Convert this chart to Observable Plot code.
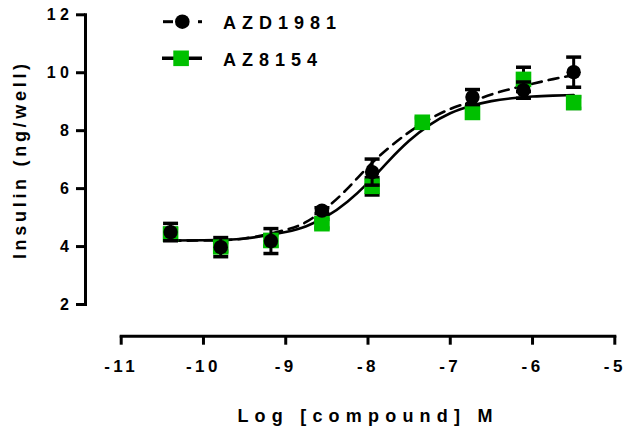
<!DOCTYPE html>
<html><head><meta charset="utf-8">
<script src="https://cdn.jsdelivr.net/npm/d3@7"></script>
<script src="https://cdn.jsdelivr.net/npm/@observablehq/plot@0.6"></script>
<style>
html,body{margin:0;padding:0;background:#fff;}
#chart svg{display:block;}
</style>
</head><body><div id="chart"></div>
<script>
// ---- data ----
const xDose = [-10.40, -9.79, -9.18, -8.56, -7.95, -7.34, -6.73, -6.11, -5.50];
const azd1981 = [4.50, 3.98, 4.19, 5.24, 6.57, null, 9.16, 9.40, 10.02];
const azd1981Sem = [0.30, 0.33, 0.43, 0.10, 0.45, null, 0.26, 0.28, 0.52];
const az8154 = [4.43, 3.99, 4.21, 4.79, 6.08, 8.29, 8.63, 9.77, 8.97];
const az8154Sem = [0.20, 0.15, 0.20, 0.15, 0.30, 0.15, 0.15, 0.42, 0.20];
const curveX = [-10.4, -10, -9.5, -9, -8.75, -8.5, -8.25, -8, -7.75, -7.5, -7.25, -7, -6.75, -6.5, -6.25, -6, -5.75, -5.5];
const azd1981Fit = [4.20, 4.21, 4.28, 4.58, 4.85, 5.35, 6.00, 6.75, 7.40, 7.95, 8.40, 8.75, 9.00, 9.25, 9.45, 9.62, 9.78, 9.92];
const az8154Fit = [4.21, 4.22, 4.28, 4.50, 4.70, 5.05, 5.55, 6.20, 6.95, 7.65, 8.20, 8.60, 8.85, 9.02, 9.12, 9.18, 9.21, 9.23];
const xTicks = [-11, -10, -9, -8, -7, -6, -5];
const yTicks = [2, 4, 6, 8, 10, 12];
const seriesNames = ["AZD1981", "AZ8154"];
const xLabel = "Log [compound] M";
const yLabel = "Insulin (ng/well)";
const green = "#00c000";

const A = xDose.map((x, i) => ({x, v: azd1981[i], s: azd1981Sem[i]})).filter(d => d.v != null);
const B = xDose.map((x, i) => ({x, v: az8154[i], s: az8154Sem[i]}));
const fitA = curveX.map((x, i) => ({x, y: azd1981Fit[i]}));
const fitB = curveX.map((x, i) => ({x, y: az8154Fit[i]}));
const cap = {draw(ctx) { ctx.rect(-7.5, -1.75, 15, 3.5); }};

function errorMarks(D) {
  return [
    Plot.ruleX(D, {x: "x", y1: d => d.v - d.s, y2: d => d.v + d.s, stroke: "black", strokeWidth: 3}),
    Plot.dot(D, {x: "x", y: d => d.v - d.s, symbol: cap, r: 5, fill: "black", stroke: null}),
    Plot.dot(D, {x: "x", y: d => d.v + d.s, symbol: cap, r: 5, fill: "black", stroke: null})
  ];
}

const chart = Plot.plot({
  width: 631, height: 436,
  marginLeft: 120.7, marginRight: 16.7, marginTop: 14.3, marginBottom: 132,
  style: {fontFamily: "'Liberation Sans', Arial, sans-serif", background: "#fff", color: "black"},
  x: {domain: [-11, -5]},
  y: {domain: [2, 12]},
  marks: [
    Plot.frame({anchor: "left", dx: -35.7, stroke: "black", strokeWidth: 3, strokeLinecap: "square"}),
    Plot.frame({anchor: "bottom", dy: 31.7, stroke: "black", strokeWidth: 3, strokeLinecap: "square"}),
    Plot.axisY(yTicks, {anchor: "left", dx: -35.7, tickSize: 9, tickPadding: 3, strokeWidth: 3, fontSize: 16, fontWeight: "bold", label: null, tickFormat: d => String(d)}),
    Plot.axisX(xTicks, {anchor: "bottom", dy: 31.7, tickSize: 9, tickPadding: 15, strokeWidth: 3, fontSize: 17, fontWeight: "bold", label: null, tickFormat: d => String(d)}),
    Plot.text([xLabel], {frameAnchor: "bottom", text: d => d, dy: 117, fontSize: 18, fontWeight: "bold", fill: "black"}),
    Plot.text([yLabel], {frameAnchor: "left", textAnchor: "middle", text: d => d, rotate: -90, dx: -100.7, fontSize: 18, fontWeight: "bold", fill: "black"}),
    Plot.line(fitB, {x: "x", y: "y", stroke: "black", strokeWidth: 2.6, curve: "natural"}),
    Plot.line(fitA, {x: "x", y: "y", stroke: "black", strokeWidth: 2.6, strokeDasharray: "10,7", curve: "natural"}),
    ...errorMarks(B),
    Plot.dot(B, {x: "x", y: "v", symbol: "square", r: 8.8, fill: green, stroke: null}),
    ...errorMarks(A),
    Plot.dot(A, {x: "x", y: "v", r: 7.2, fill: "black", stroke: null})
  ]
});
document.getElementById("chart").appendChild(chart);

const svg = d3.select(chart);
svg.selectAll('g[aria-label="x-axis tick label"] text').style("letter-spacing", "3.5px");
svg.selectAll('g[aria-label="y-axis tick label"] text').style("letter-spacing", "4.5px");
svg.selectAll("text").filter(function() { return this.textContent === xLabel; }).style("letter-spacing", "6.2px");
svg.selectAll("text").filter(function() { return this.textContent === yLabel; }).style("letter-spacing", "3.7px");

// legend (top-left, inside plot)
const lg = svg.append("g").attr("font-family", "'Liberation Sans', Arial, sans-serif").attr("font-weight", "bold").attr("font-size", 18).attr("text-anchor", "start");
// AZD1981: dashed line with circle
lg.append("line").attr("x1", 163).attr("x2", 173).attr("y1", 21.7).attr("y2", 21.7).attr("stroke", "black").attr("stroke-width", 3);
lg.append("line").attr("x1", 198).attr("x2", 202).attr("y1", 21.7).attr("y2", 21.7).attr("stroke", "black").attr("stroke-width", 3);
lg.append("circle").attr("cx", 182.3).attr("cy", 21.7).attr("r", 7.3).attr("fill", "black");
lg.append("text").attr("x", 223).attr("y", 28.5).attr("fill", "black").style("letter-spacing", "6px").text(seriesNames[0]);
// AZ8154: solid line with green square
lg.append("line").attr("x1", 162).attr("x2", 202).attr("y1", 58.3).attr("y2", 58.3).attr("stroke", "black").attr("stroke-width", 3.5);
lg.append("rect").attr("x", 173.3).attr("y", 50.5).attr("width", 15.6).attr("height", 15.6).attr("fill", green);
lg.append("text").attr("x", 223).attr("y", 66).attr("fill", "black").style("letter-spacing", "6px").text(seriesNames[1]);
</script>
</body></html>
